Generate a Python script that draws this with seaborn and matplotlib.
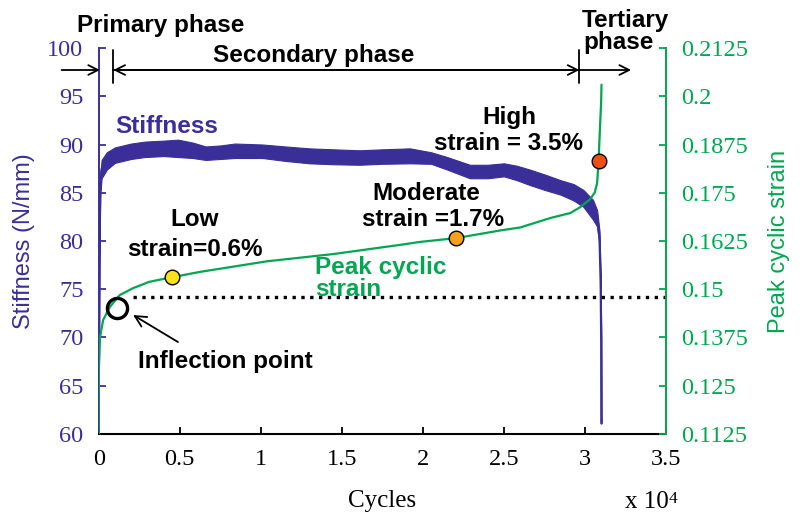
import numpy as np
import pandas as pd
import matplotlib
matplotlib.use("Agg")
import matplotlib.pyplot as plt
import seaborn as sns

# ========== datos (ciclos en unidades de 10^4) ==========
stiff_cycles = [0.000, 0.004, 0.010, 0.018, 0.05, 0.10, 0.20, 0.285, 0.40, 0.49,
                0.58, 0.66, 0.75, 0.84, 1.01, 1.15, 1.30, 1.45, 1.61, 1.75,
                1.92, 2.05, 2.15, 2.29, 2.40, 2.50, 2.58, 2.66, 2.75, 2.85,
                2.93, 2.99, 3.05, 3.075, 3.09, 3.097, 3.100, 3.101]
stiff_high = [61.0, 80.0, 87.0, 88.4, 89.2, 89.7, 90.1, 90.3, 90.4, 90.5,
              90.2, 89.8, 89.9, 90.1, 90.0, 89.8, 89.6, 89.5, 89.4, 89.5,
              89.6, 89.2, 88.7, 87.9, 87.9, 88.05, 87.8, 87.4, 86.9, 86.3,
              85.9, 85.3, 84.25, 83.2, 81.0, 76.0, 70.0, 61.1]
stiff_low = [61.0, 78.0, 85.0, 86.5, 87.4, 88.1, 88.5, 88.7, 88.8, 88.7,
             88.6, 88.4, 88.5, 88.6, 88.6, 88.3, 88.05, 87.95, 87.9, 88.0,
             88.05, 88.0, 87.4, 86.5, 86.5, 86.7, 86.3, 85.8, 85.3, 84.8,
             84.2, 83.55, 82.2, 81.5, 79.5, 75.0, 70.0, 61.1]

strain_cycles = [0.000, 0.001, 0.008, 0.027, 0.07, 0.13, 0.21, 0.31, 0.45, 0.625,
                 1.04, 1.45, 1.86, 1.98, 2.205, 2.48, 2.60, 2.79, 2.91, 2.97,
                 3.03, 3.06, 3.075, 3.084, 3.092, 3.100, 3.102]
peak_strain = [0.1125, 0.1300, 0.1375, 0.1420, 0.1455, 0.1485, 0.15025, 0.1519, 0.1531, 0.1545,
               0.15725, 0.15913, 0.1615, 0.16225, 0.16325, 0.16525, 0.1660, 0.1685, 0.16975, 0.17125,
               0.17325, 0.1750, 0.1775, 0.18325, 0.19125, 0.19875, 0.2030]

# puntos marcados (bajo, moderado, alto)
marker_cycles = [0.45, 2.205, 3.084]
marker_strain = [0.1531, 0.16325, 0.18325]
marker_colors = ["#f8e21c", "#f7a11a", "#f04f14"]

x_ticks = [0, 0.5, 1, 1.5, 2, 2.5, 3, 3.5]
x_labels = ["0", "0.5", "1", "1.5", "2", "2.5", "3", "3.5"]
y_ticks = [60, 65, 70, 75, 80, 85, 90, 95, 100]
y2_ticks = [0.1125, 0.125, 0.1375, 0.15, 0.1625, 0.175, 0.1875, 0.2, 0.2125]
y2_labels = ["0.1125", "0.125", "0.1375", "0.15", "0.1625", "0.175", "0.1875", "0.2", "0.2125"]

inflection_cycles = 0.11
inflection_strain = 0.14525
plateau_strain = 0.148

blue = "#3a2f98"
green = "#00a651"

sns.set_style("ticks")
plt.rcParams['font.family'] = ['Liberation Sans', 'DejaVu Sans']
plt.rcParams['text.color'] = 'black'

fig = plt.figure(figsize=(8, 5.23), dpi=100)
ax = fig.add_axes([0.1234, 0.1702, 0.7091, 0.738])
ax2 = ax.twinx()

# ======= rigidez (banda con ruido) =======
df_s = pd.DataFrame({"ciclos": stiff_cycles, "alto": stiff_high, "bajo": stiff_low})
df_s["medio"] = (df_s["alto"] + df_s["bajo"]) / 2
ax.fill_between(df_s["ciclos"], df_s["bajo"], df_s["alto"], color=blue, lw=0.8, edgecolor=blue)
sns.lineplot(data=df_s, x="ciclos", y="medio", ax=ax, color=blue, lw=1.6, sort=False)

# ======= deformacion pico =======
df_e = pd.DataFrame({"ciclos": strain_cycles, "deformacion": peak_strain})
sns.lineplot(data=df_e, x="ciclos", y="deformacion", ax=ax2, color=green, lw=1.6, sort=False)
ax2.plot([0.21, 3.51], [plateau_strain, plateau_strain], ls=":", color="black", lw=2.4,
         clip_on=False)
for cx, cy, cc in zip(marker_cycles, marker_strain, marker_colors):
    ax2.plot(cx, cy, "o", ms=10.5, mfc=cc, mec="black", mew=1.0, zorder=5)
ax2.plot(inflection_cycles, inflection_strain, "o", ms=14.5, mfc="none", mec="black",
         mew=2.4, zorder=5)

# ======= ejes =======
ax.set_xlim(0, 3.5)
ax.set_ylim(60, 100)
ax2.set_ylim(0.1125, 0.2125)
ax.set_xticks(x_ticks)
ax.set_xticklabels(x_labels)
ax.set_yticks(y_ticks)
ax2.set_yticks(y2_ticks)
ax2.set_yticklabels(y2_labels)

serif = ['Liberation Serif', 'DejaVu Serif']
for a in (ax, ax2):
    for lab in a.get_xticklabels() + a.get_yticklabels():
        lab.set_family(serif)
        lab.set_fontsize(17.5)

ax.tick_params(axis="x", direction="in", length=5, width=1.3, pad=11, colors="black")
ax.tick_params(axis="y", direction="in", length=5, width=1.3, pad=11, colors=blue)
ax2.tick_params(axis="y", direction="in", length=5, width=1.3, pad=11, colors=green)

for s in ["top", "right"]:
    ax.spines[s].set_visible(False)
for s in ["top", "left", "bottom"]:
    ax2.spines[s].set_visible(False)
ax.spines["left"].set_color(blue)
ax.spines["left"].set_linewidth(1.4)
ax.spines["bottom"].set_color("black")
ax.spines["bottom"].set_linewidth(1.5)
ax2.spines["right"].set_color(green)
ax2.spines["right"].set_linewidth(1.4)

ax.set_xlabel("Cycles", family=serif, fontsize=18, labelpad=14, color="black")
ax.set_ylabel("Stiffness (N/mm)", fontsize=17, color=blue, labelpad=9)
ax2.set_ylabel("Peak cyclic strain", fontsize=17, color=green, labelpad=14)
fig.text(0.781, 0.029, "x 10", family=serif, fontsize=18, va="baseline", color="black")
fig.text(0.836, 0.038, "4", family=serif, fontsize=12.5, va="baseline", color="black")

# ======= textos =======
tk = dict(fontsize=17.5, fontweight="bold", va="baseline")
ax.text(-0.134, 101.66, "Primary phase", ha="left", clip_on=False, color="black", **tk)
ax.text(0.705, 98.55, "Secondary phase", ha="left", color="black", **tk)
ax.text(2.98, 102.18, "Tertiary", ha="left", clip_on=False, color="black", **tk)
ax.text(2.99, 99.9, "phase", ha="left", clip_on=False, color="black", **tk)
ax.text(0.10, 91.19, "Stiffness", ha="left", color=blue, **tk)
ax.text(2.536, 92.12, "High", ha="center", color="black", **tk)
ax.text(2.53, 89.38, "strain = 3.5%", ha="center", color="black", **tk)
ax.text(2.02, 84.25, "Moderate", ha="center", color="black", **tk)
ax.text(2.064, 81.55, "strain =1.7%", ha="center", color="black", **tk)
ax.text(0.594, 81.55, "Low", ha="center", color="black", **tk)
ax.text(0.594, 78.45, "strain=0.6%", ha="center", color="black", **tk)
ax.text(1.335, 76.55, "Peak cyclic", ha="left", color=green, **tk)
ax.text(1.335, 74.35, "strain", ha="left", color=green, **tk)
ax.text(0.78, 66.84, "Inflection point", ha="center", color="black", **tk)

# ======= flechas de fases =======
arr = dict(arrowstyle="->,head_length=0.7,head_width=0.35", color="black", lw=1.3,
           shrinkA=0, shrinkB=0, mutation_scale=10)
ax.annotate("", xy=(0.008, 97.72), xytext=(-0.229, 97.72), arrowprops=arr,
            annotation_clip=False)
ax.annotate("", xy=(0.09, 97.72), xytext=(2.966, 97.72), arrowprops=arr,
            annotation_clip=False)
ax.annotate("", xy=(2.966, 97.72), xytext=(0.09, 97.72), arrowprops=arr,
            annotation_clip=False)
ax.annotate("", xy=(3.285, 97.72), xytext=(2.966, 97.72), arrowprops=arr,
            annotation_clip=False)
ax.plot([0.09, 0.09], [96.4, 99.8], color="black", lw=1.3, clip_on=False)
ax.plot([2.966, 2.966], [96.4, 99.8], color="black", lw=1.3, clip_on=False)
ax.annotate("", xy=(0.212, 72.33), xytext=(0.489, 69.53),
            arrowprops=dict(arrowstyle="->,head_length=0.8,head_width=0.4", color="black",
                            lw=1.3, shrinkA=0, shrinkB=0, mutation_scale=10))

ax.set_zorder(1)
ax2.set_zorder(2)
ax2.patch.set_visible(False)

fig.savefig("out.png", dpi=100)
